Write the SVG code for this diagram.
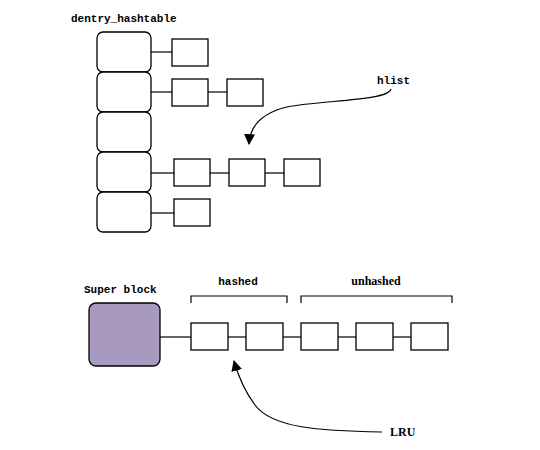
<svg xmlns="http://www.w3.org/2000/svg" width="540" height="450" viewBox="0 0 540 450">
<style>
.b{fill:#fff;stroke:#000;stroke-width:1.3}
.k{fill:#fff;stroke:#000;stroke-width:1.3}
.l{fill:none;stroke:#000;stroke-width:1.2}
.t{font-family:"Liberation Mono",monospace;font-weight:bold;font-size:11px;fill:#000}
.s{font-family:"Liberation Serif",serif;font-weight:bold;font-size:12px;fill:#000}
</style>
<defs>
<marker id="ah" viewBox="0 0 10 10" refX="9" refY="5" markerWidth="11" markerHeight="11" markerUnits="userSpaceOnUse" orient="auto">
<path d="M0,0 L10,5 L0,10 z" fill="#000"/>
</marker>
</defs>
<rect width="540" height="450" fill="#fff"/>
<text class="t" x="71" y="22">dentry_hashtable</text>
<g id="connectors">
<line class="l" x1="151" y1="52" x2="172" y2="52"/>
<line class="l" x1="151" y1="92" x2="172" y2="92"/>
<line class="l" x1="208" y1="92" x2="227" y2="92"/>
<line class="l" x1="151" y1="173" x2="174" y2="173"/>
<line class="l" x1="209" y1="173" x2="229" y2="173"/>
<line class="l" x1="265" y1="173" x2="284" y2="173"/>
<line class="l" x1="151" y1="213" x2="174" y2="213"/>
<path class="l" d="M391,89 C388,101 322,100 287,107 C262,113 250,126 249,144" marker-end="url(#ah)"/>
<line class="l" x1="160" y1="337" x2="191" y2="337"/>
<line class="l" x1="228" y1="337" x2="246" y2="337"/>
<line class="l" x1="283" y1="337" x2="301" y2="337"/>
<line class="l" x1="338" y1="337" x2="356" y2="337"/>
<line class="l" x1="393" y1="337" x2="411" y2="337"/>
<path class="l" d="M382,432 C320,431 272,428 255,405 C246,393 238,375 234,361" marker-end="url(#ah)"/>
<path class="l" d="M191,303 V296 H287 V303"/>
<path class="l" d="M301,303 V296 H452 V303"/>
</g>
<g id="bucket1"><rect class="b" x="97" y="32" width="54" height="40" rx="6"/></g>
<g id="bucket2"><rect class="b" x="97" y="72" width="54" height="40" rx="6"/></g>
<g id="bucket3"><rect class="b" x="97" y="112" width="54" height="40" rx="6"/></g>
<g id="bucket4"><rect class="b" x="97" y="152" width="54" height="40" rx="6"/></g>
<g id="bucket5"><rect class="b" x="97" y="192" width="54" height="40" rx="6"/></g>
<g id="n1a"><rect class="k" x="172" y="39" width="36" height="27"/></g>
<g id="n2a"><rect class="k" x="172" y="79" width="36" height="27"/></g>
<g id="n2b"><rect class="k" x="227" y="79" width="36" height="27"/></g>
<g id="n4a"><rect class="k" x="174" y="159" width="36" height="27"/></g>
<g id="n4b"><rect class="k" x="229" y="159" width="36" height="27"/></g>
<g id="n4c"><rect class="k" x="284" y="159" width="36" height="27"/></g>
<g id="n5a"><rect class="k" x="174" y="199" width="36" height="27"/></g>
<g id="hlist"><text class="t" x="377" y="84">hlist</text></g>
<g id="superblock">
<text class="t" x="84" y="293">Super block</text>
<rect x="89" y="303" width="71" height="63" rx="7" fill="#a899c0" stroke="#000" stroke-width="1.3"/>
</g>
<g id="hashed"><text class="t" x="238" y="285" text-anchor="middle">hashed</text></g>
<g id="unhashed"><text class="s" x="376" y="285" text-anchor="middle">unhashed</text></g>
<g id="b1"><rect class="k" x="191" y="323" width="37" height="27"/></g>
<g id="b2"><rect class="k" x="246" y="323" width="37" height="27"/></g>
<g id="b3"><rect class="k" x="301" y="323" width="37" height="27"/></g>
<g id="b4"><rect class="k" x="356" y="323" width="37" height="27"/></g>
<g id="b5"><rect class="k" x="411" y="323" width="37" height="27"/></g>
<g id="lru"><text class="s" x="390" y="436">LRU</text></g>
</svg>
